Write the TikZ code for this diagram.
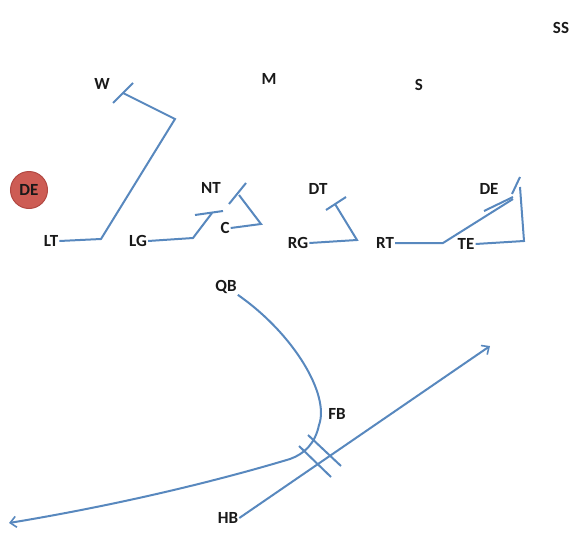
\documentclass[tikz,border=0pt]{standalone}
\usepackage{fontspec}
\setmainfont{Carlito}
\usetikzlibrary{arrows.meta}
\definecolor{routeblue}{RGB}{88,136,190}
\definecolor{defred}{RGB}{205,92,84}
\definecolor{defredline}{RGB}{178,72,66}
\definecolor{labelink}{RGB}{25,25,25}
\tikzset{
  player/.style={inner sep=1pt, text=labelink, font=\fontsize{17}{19}\selectfont\bfseries},
  route/.style={draw=routeblue, line width=2pt, line join=miter},
  blockbar/.style={draw=routeblue, line width=2pt},
  runarrow/.style={route, -{Straight Barb[length=6pt,width=11pt,line width=1.6pt]}},
  defender/.style={circle, fill=defred, draw=defredline, line width=1pt,
    minimum size=37pt, inner sep=0pt, text=labelink,
    font=\fontsize{17}{19}\selectfont\bfseries}
}
\begin{document}
\begin{tikzpicture}[x=1pt,y=-1pt]
\useasboundingbox (0,0) rectangle (572,532);

% defence
\node[player] (ss) at (561,28) {SS};
\node[player] (w)  at (102,84) {W};
\node[player] (m)  at (269,79) {M};
\node[player] (s)  at (419,85) {S};
\node[defender] (del) at (29,190) {DE};
\node[player] (nt) at (211,188) {NT};
\node[player] (dt) at (318,189) {DT};
\node[player] (der) at (489,189) {DE};

% offence
\node[player] (lt) at (51,241) {LT};
\node[player] (lg) at (138,241) {LG};
\node[player] (c)  at (225,228) {C};
\node[player] (rg) at (298,243) {RG};
\node[player] (rt) at (385,243) {RT};
\node[player] (te) at (466,244) {TE};
\node[player] (qb) at (226,287) {QB};
\node[player] (fb) at (337,414) {FB};
\node[player] (hb) at (228,518) {HB};

% blocking routes: corners and block points
\coordinate (ltA) at (101,239);  \coordinate (ltB) at (175,119);  \coordinate (ltE) at (123,93);
\coordinate (ltb1) at (113,103); \coordinate (ltb2) at (133,83);
\coordinate (lgA) at (193,238);  \coordinate (lgE) at (212,213);
\coordinate (lgb1) at (195,215); \coordinate (lgb2) at (223,211);
\coordinate (cA) at (261,224);   \coordinate (cE) at (239,195);
\coordinate (cb1) at (229,204);  \coordinate (cb2) at (246,183);
\coordinate (rgA) at (357,240);  \coordinate (rgE) at (335,204);
\coordinate (rgb1) at (326,210); \coordinate (rgb2) at (346,197);
\coordinate (rtA) at (443,243);  \coordinate (rtE) at (513,199);
\coordinate (rtb1) at (484,211); \coordinate (rtb2) at (513,197);
\coordinate (teA) at (524,241);  \coordinate (teE) at (520,187);
\coordinate (teb1) at (512,194); \coordinate (teb2) at (520,177);

\draw[route] (lt.east) -- (ltA) -- (ltB) -- (ltE);
\draw[blockbar] (ltb1) -- (ltb2);
\draw[route] (lg.east) -- (lgA) -- (lgE);
\draw[blockbar] (lgb1) -- (lgb2);
\draw[route] (c.east) -- (cA) -- (cE);
\draw[blockbar] (cb1) -- (cb2);
\draw[route] (rg.east) -- (rgA) -- (rgE);
\draw[blockbar] (rgb1) -- (rgb2);
\draw[route] (rt.east) -- (rtA) -- (rtE);
\draw[blockbar] (rtb1) -- (rtb2);
\draw[route] (te.east) -- (teA) -- (teE);
\draw[blockbar] (teb1) -- (teb2);

% backfield: quarterback pitch path and halfback dive
\coordinate (qbTurn) at (319,425);
\coordinate (qbMid) at (290,459);
\coordinate (qbEnd) at (9,523);
\coordinate (hbEnd) at (490,346);
\draw[runarrow] (qb.south east) .. controls (294,334) and (330,395) .. (qbTurn)
  .. controls (315,444) and (304,454) .. (qbMid)
  .. controls (200,486) and (100,508) .. (qbEnd);
\draw[runarrow] (hb.east) -- (hbEnd);

% mesh marks where the paths cross
\coordinate (m1a) at (308,435); \coordinate (m1b) at (341,466);
\coordinate (m2a) at (299,446); \coordinate (m2b) at (331,477);
\draw[blockbar] (m1a) -- (m1b);
\draw[blockbar] (m2a) -- (m2b);
\end{tikzpicture}
\end{document}
